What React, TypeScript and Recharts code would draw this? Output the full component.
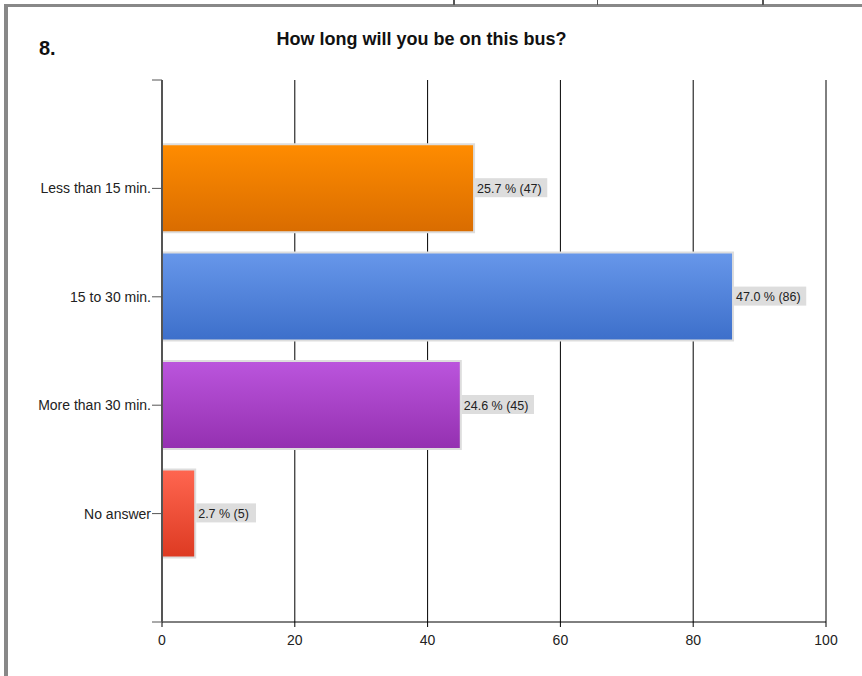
import { BarChart, Bar, XAxis, YAxis, CartesianGrid, Cell, LabelList } from "recharts";

const categories = ["Less than 15 min.", "15 to 30 min.", "More than 30 min.", "No answer"];
const counts = [47, 86, 45, 5];
const percents = [25.7, 47.0, 24.6, 2.7];
const xTicks = [0, 20, 40, 60, 80, 100];
const gradients = [
  ["#ff8c00", "#d96c00"],
  ["#6797ea", "#3d6fca"],
  ["#bb55dd", "#9430b0"],
  ["#ff6650", "#dd3a22"],
];

const data = categories.map((name, i) => ({
  name,
  pos: i + 1,
  value: counts[i],
  pct: percents[i],
}));

const font = "'Liberation Sans', Arial, sans-serif";

const BarLabel = (props: any) => {
  const { x, y, width, height, index } = props;
  const text = `${percents[index].toFixed(1)} % (${counts[index]})`;
  const w = text.length * 6.2 + 4;
  const lx = x + width + 1;
  const cy = y + height / 2;
  return (
    <g>
      <rect x={lx} y={cy - 10} width={w} height={19} fill="#dddddd" />
      <text x={lx + 2} y={cy + 4.5} fontSize={12.5} fontFamily={font} fill="#222">
        {text}
      </text>
    </g>
  );
};

export default function App() {
  return (
    <div style={{ position: "absolute", left: 0, top: 0, width: 862, height: 676, background: "#fff", overflow: "hidden" }}>
      {/* frame around the page */}
      <div style={{ position: "absolute", left: 4, top: 4, width: 858, height: 3, background: "#888" }} />
      <div style={{ position: "absolute", left: 4, top: 4, width: 4, height: 672, background: "#888" }} />
      <div style={{ position: "absolute", left: 453, top: 0, width: 2, height: 5, background: "#555" }} />
      <div style={{ position: "absolute", left: 597, top: 0, width: 1, height: 5, background: "#555" }} />
      <div style={{ position: "absolute", left: 762, top: 0, width: 2, height: 5, background: "#555" }} />

      <div style={{ position: "absolute", left: 39, top: 37, fontFamily: font, fontWeight: "bold", fontSize: 20, color: "#111" }}>
        8.
      </div>
      <div
        style={{
          position: "absolute",
          left: 0,
          width: 843,
          top: 29,
          textAlign: "center",
          fontFamily: font,
          fontWeight: "bold",
          fontSize: 18,
          color: "#111",
        }}
      >
        How long will you be on this bus?
      </div>

      <div style={{ position: "absolute", left: 0, top: 0 }}>
        <BarChart
          width={862}
          height={676}
          data={data}
          layout="vertical"
          margin={{ top: 80, right: 36, bottom: 0, left: 0 }}
        >
          <defs>
            {gradients.map((g, i) => (
              <linearGradient key={i} id={`grad${i}`} x1="0" y1="0" x2="0" y2="1">
                <stop offset="0%" stopColor={g[0]} />
                <stop offset="100%" stopColor={g[1]} />
              </linearGradient>
            ))}
          </defs>
          <CartesianGrid horizontal={false} stroke="#000" strokeWidth={1} />
          <XAxis
            type="number"
            domain={[0, 100]}
            ticks={xTicks}
            axisLine={{ stroke: "#000" }}
            tickLine={{ stroke: "#000" }}
            tickSize={5}
            tickMargin={8}
            tick={{ fontSize: 14, fontFamily: font, fill: "#222" }}
            height={54}
          />
          <YAxis
            type="number"
            dataKey="pos"
            domain={[0, 5]}
            ticks={[0, 1, 2, 3, 4, 5]}
            width={162}
            axisLine={{ stroke: "#555", strokeWidth: 2 }}
            tickLine={{ stroke: "#555" }}
            tickSize={10}
            tickMargin={1}
            tickFormatter={(v: number) => categories[v - 1] ?? ""}
            tick={{ fontSize: 14, fontFamily: font, fill: "#222" }}
          />
          <Bar dataKey="value" barSize={88} stroke="#dddddd" strokeWidth={2} isAnimationActive={false}>
            {data.map((d, i) => (
              <Cell key={d.name} fill={`url(#grad${i})`} />
            ))}
            <LabelList dataKey="value" content={BarLabel} />
          </Bar>
        </BarChart>
      </div>
    </div>
  );
}
